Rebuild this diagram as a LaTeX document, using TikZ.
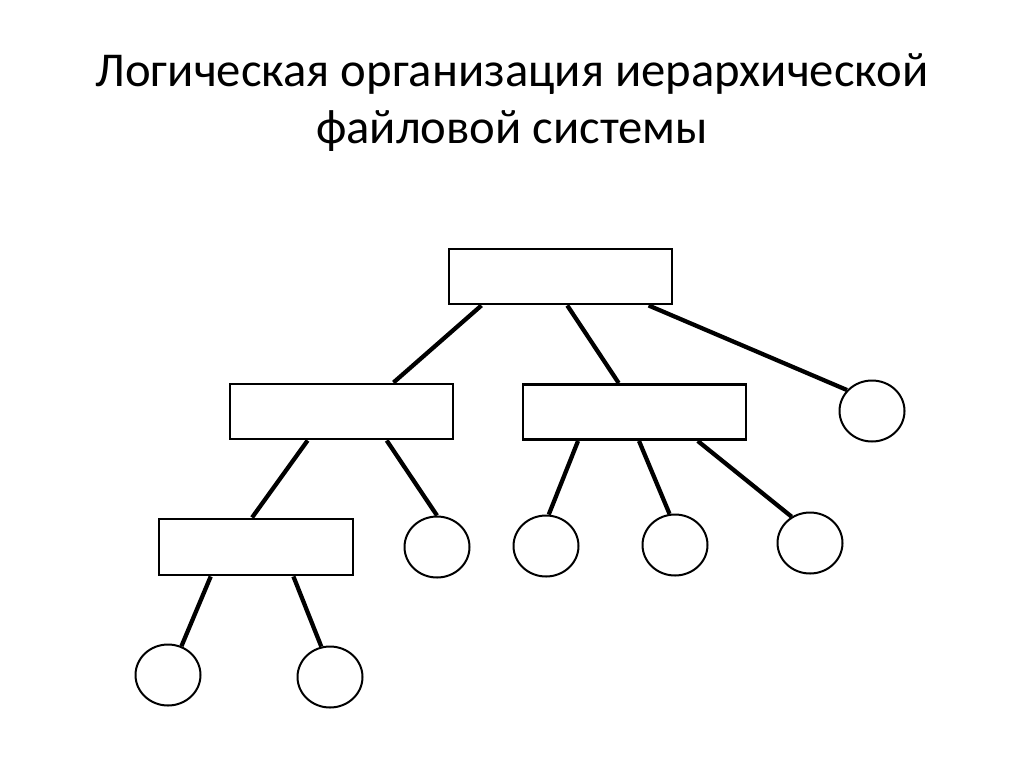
\documentclass[tikz,border=0pt]{standalone}
\usepackage{fontspec}
\setmainfont{Carlito}
\usetikzlibrary{calc,shapes.geometric}

\tikzset{
  dirbox/.style={draw,line width=2.2pt,fill=white,minimum width=167.25pt,minimum height=41.25pt,inner sep=0pt},
  subbox/.style={dirbox,minimum width=145.5pt,minimum height=42pt},
  filenode/.style={draw,ellipse,line width=1.5pt,minimum width=48.75pt,minimum height=45.75pt,inner sep=0pt},
  link/.style={line width=3.2pt},
  titletext/.style={anchor=base,font=\fontsize{36.5}{40}\selectfont}
}

\begin{document}
\begin{tikzpicture}[x=0.75pt,y=0.75pt,yscale=-1,xscale=1]
        \useasboundingbox (0,0) rectangle (1024,768);

        %Title
        \node[titletext] (title) at (512,86) {Логическая организация иерархической};
        \node[titletext] (title2) at (512,143) {файловой системы};

        %Shape: Rectangle [root]
        \node[dirbox] (root) at (560.5,276.5) {};
        %Shape: Rectangle [left dir]
        \node[dirbox] (lmid) at (341.5,411.5) {};
        %Shape: Rectangle [right dir]
        \node[dirbox] (rmid) at (634.5,412) {};
        %Shape: Rectangle [sub dir]
        \node[subbox] (sub) at (256,547) {};

        %Shape: Circle [files]
        \node[filenode] (f1) at (872,411) {};
        \node[filenode] (f2) at (437,547) {};
        \node[filenode] (f3) at (546,546) {};
        \node[filenode] (f4) at (675,545) {};
        \node[filenode] (f5) at (810,543) {};
        \node[filenode] (f6) at (168,675) {};
        \node[filenode] (f7) at (330,677) {};

        %Straight Lines [from root]
        \draw[link] ($(root.south west)!.15!(root.south east)$) -- ($(lmid.north west)!.73!(lmid.north east)$);
        \draw[link] ($(root.south west)!.53!(root.south east)$) -- ($(rmid.north west)!.43!(rmid.north east)$);
        \draw[link] ($(root.south west)!.89!(root.south east)$) -- (f1.140);
        %Straight Lines [from left dir]
        \draw[link] ($(lmid.south west)!.35!(lmid.south east)$) -- ($(sub.north west)!.48!(sub.north east)$);
        \draw[link] ($(lmid.south west)!.70!(lmid.south east)$) -- (f2.north);
        %Straight Lines [from right dir]
        \draw[link] ($(rmid.south west)!.25!(rmid.south east)$) -- (f3.85);
        \draw[link] ($(rmid.south west)!.52!(rmid.south east)$) -- (f4.100);
        \draw[link] ($(rmid.south west)!.78!(rmid.south east)$) -- (f5.125);
        %Straight Lines [from sub dir]
        \draw[link] ($(sub.south west)!.27!(sub.south east)$) -- (f6.65);
        \draw[link] ($(sub.south west)!.69!(sub.south east)$) -- (f7.106);

\end{tikzpicture}
\end{document}
